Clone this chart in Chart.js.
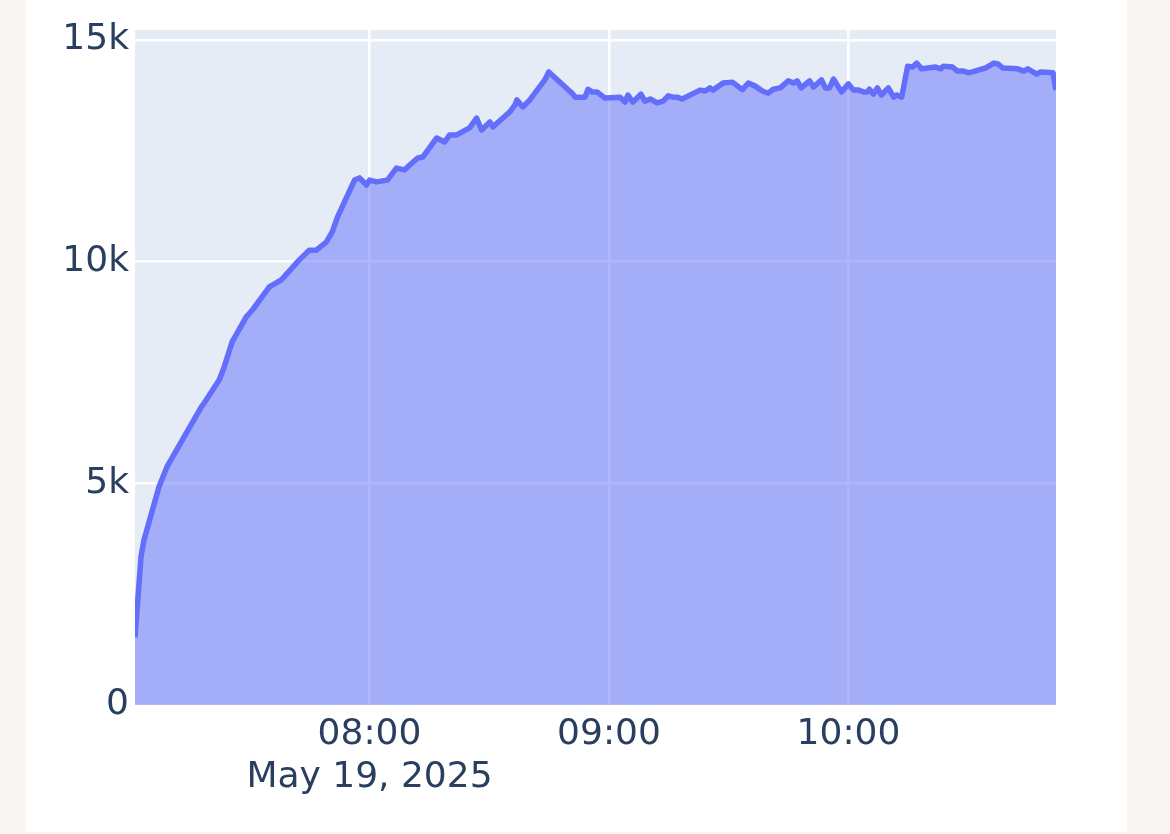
<!DOCTYPE html>
<html>
<head>
<meta charset="utf-8">
<script src="https://cdn.jsdelivr.net/npm/chart.js@4"></script>
<style>
  html, body { margin: 0; padding: 0; background: #f9f6f3; }
  #card { position: absolute; left: 26px; top: 0; width: 1101px; height: 832px; background: #ffffff; }
</style>
</head>
<body>
<div id="card"><canvas id="areaChart" width="1101" height="832"></canvas></div>
<script>
// Data (time of day, value)
const times = [
  "07:01:15", "07:02:45", "07:03:30", "07:07:15", "07:09:15", "07:10:15", "07:17:50", "07:18:35",
  "07:22:20", "07:23:35", "07:25:35", "07:29:05", "07:30:40", "07:34:55", "07:37:55", "07:42:25",
  "07:44:55", "07:46:40", "07:49:10", "07:50:40", "07:52:00", "07:56:15", "07:57:30", "07:59:15",
  "08:00:00", "08:01:45", "08:04:30", "08:06:45", "08:08:45", "08:10:05", "08:12:05", "08:13:20",
  "08:16:50", "08:18:50", "08:20:05", "08:21:50", "08:25:05", "08:26:50", "08:28:05", "08:30:10",
  "08:30:55", "08:33:25", "08:35:10", "08:36:25", "08:36:55", "08:38:25", "08:40:10", "08:43:55",
  "08:44:55", "08:50:45", "08:51:30", "08:54:00", "08:54:45", "08:55:45", "08:57:00", "08:59:00",
  "09:02:45", "09:04:00", "09:04:45", "09:06:00", "09:08:00", "09:09:00", "09:10:20", "09:12:05",
  "09:13:35", "09:14:50", "09:16:05", "09:17:05", "09:18:20", "09:22:50", "09:24:05", "09:25:20",
  "09:26:05", "09:28:35", "09:30:55", "09:33:25", "09:34:55", "09:36:40", "09:38:25", "09:39:55",
  "09:41:10", "09:42:55", "09:44:55", "09:46:10", "09:47:10", "09:48:10", "09:50:15", "09:51:15",
  "09:53:15", "09:54:15", "09:55:15", "09:56:15", "09:58:15", "10:00:00", "10:01:15", "10:02:30",
  "10:03:45", "10:04:45", "10:05:15", "10:06:15", "10:07:15", "10:08:15", "10:10:00", "10:11:20",
  "10:12:05", "10:13:20", "10:14:50", "10:16:05", "10:17:05", "10:18:20", "10:21:50", "10:23:05",
  "10:23:50", "10:26:05", "10:27:20", "10:28:50", "10:30:10", "10:34:25", "10:36:25", "10:37:25",
  "10:38:40", "10:42:25", "10:43:55", "10:44:55", "10:47:10", "10:48:10", "10:51:15", "10:52:00"
];
const values = [
  1530, 3340, 3720, 4920, 5370, 5530, 6720, 6810,
  7330, 7620, 8190, 8750, 8910, 9430, 9590, 10040,
  10260, 10260, 10440, 10670, 11010, 11840, 11890, 11730,
  11840, 11800, 11840, 12110, 12070, 12180, 12340, 12360,
  12790, 12700, 12860, 12860, 13020, 13240, 12970, 13150,
  13040, 13240, 13380, 13530, 13650, 13490, 13650, 14100,
  14280, 13800, 13710, 13710, 13890, 13830, 13830, 13690,
  13710, 13600, 13760, 13600, 13780, 13620, 13670, 13580,
  13620, 13740, 13710, 13710, 13670, 13870, 13850, 13920,
  13870, 14030, 14050, 13880, 14030, 13960, 13850, 13800,
  13890, 13920, 14080, 14030, 14080, 13920, 14080, 13940,
  14100, 13920, 13920, 14120, 13830, 14010, 13870, 13870,
  13830, 13830, 13890, 13780, 13920, 13760, 13920, 13710,
  13760, 13710, 14410, 14390, 14480, 14350, 14390, 14350,
  14410, 14390, 14300, 14300, 14260, 14370, 14480, 14460,
  14370, 14350, 14300, 14350, 14230, 14280, 14260, 13870
];
const xTicks = ["08:00", "09:00", "10:00"];
const dateLabel = "May 19, 2025";
const yTicks = [0, 5000, 10000, 15000];

// minutes since midnight
function toMin(s) {
  const p = s.split(":").map(Number);
  return p[0] * 60 + p[1] + (p[2] || 0) / 60;
}
function fmtMin(m) {
  const h = Math.floor(m / 60), mm = Math.round(m - h * 60);
  return String(h).padStart(2, "0") + ":" + String(mm).padStart(2, "0");
}

const points = times.map((t, i) => ({ x: toMin(t), y: values[i] }));
const tickFont = { family: "DejaVu Sans", size: 36 };
const textColor = "#2a3f5f";

// paint the plot background
const plotBg = {
  id: "plotBg",
  beforeDraw(chart) {
    const a = chart.chartArea, c = chart.ctx;
    c.save();
    c.fillStyle = "#e5ecf6";
    c.fillRect(a.left, a.top, a.right - a.left, a.bottom - a.top);
    c.restore();
  }
};

new Chart(document.getElementById("areaChart"), {
  type: "line",
  data: {
    datasets: [{
      data: points,
      borderColor: "#636efa",
      backgroundColor: "rgba(99,110,250,0.5)",
      borderWidth: 5.5,
      borderJoinStyle: "round",
      pointRadius: 0,
      tension: 0,
      fill: "origin"
    }]
  },
  options: {
    responsive: false,
    animation: false,
    layout: { padding: { left: 0, right: 71, top: 30, bottom: 0 } },
    plugins: { legend: { display: false }, tooltip: { enabled: false } },
    scales: {
      x: {
        type: "linear",
        min: toMin(times[0]),
        max: toMin(times[times.length - 1]),
        afterBuildTicks: (s) => { s.ticks = xTicks.map(t => ({ value: toMin(t) })); },
        afterFit: (s) => { s.height = 127; },
        ticks: {
          autoSkip: false,
          maxRotation: 0,
          padding: 8,
          color: textColor,
          font: tickFont,
          callback: (v) => {
            const lbl = fmtMin(v);
            return lbl === xTicks[0] ? [lbl, dateLabel] : lbl;
          }
        },
        grid: { color: "#ffffff", lineWidth: 2.5, drawTicks: false },
        border: { display: false }
      },
      y: {
        min: 0,
        max: 15226,
        afterBuildTicks: (s) => { s.ticks = yTicks.map(v => ({ value: v })); },
        afterFit: (s) => { s.width = 109; },
        ticks: {
          padding: 6,
          color: textColor,
          font: tickFont,
          callback: (v) => v === 0 ? "0" : (v / 1000) + "k"
        },
        grid: { color: "#ffffff", lineWidth: 2.5, drawTicks: false },
        border: { display: false }
      }
    }
  },
  plugins: [plotBg]
});
</script>
</body>
</html>
